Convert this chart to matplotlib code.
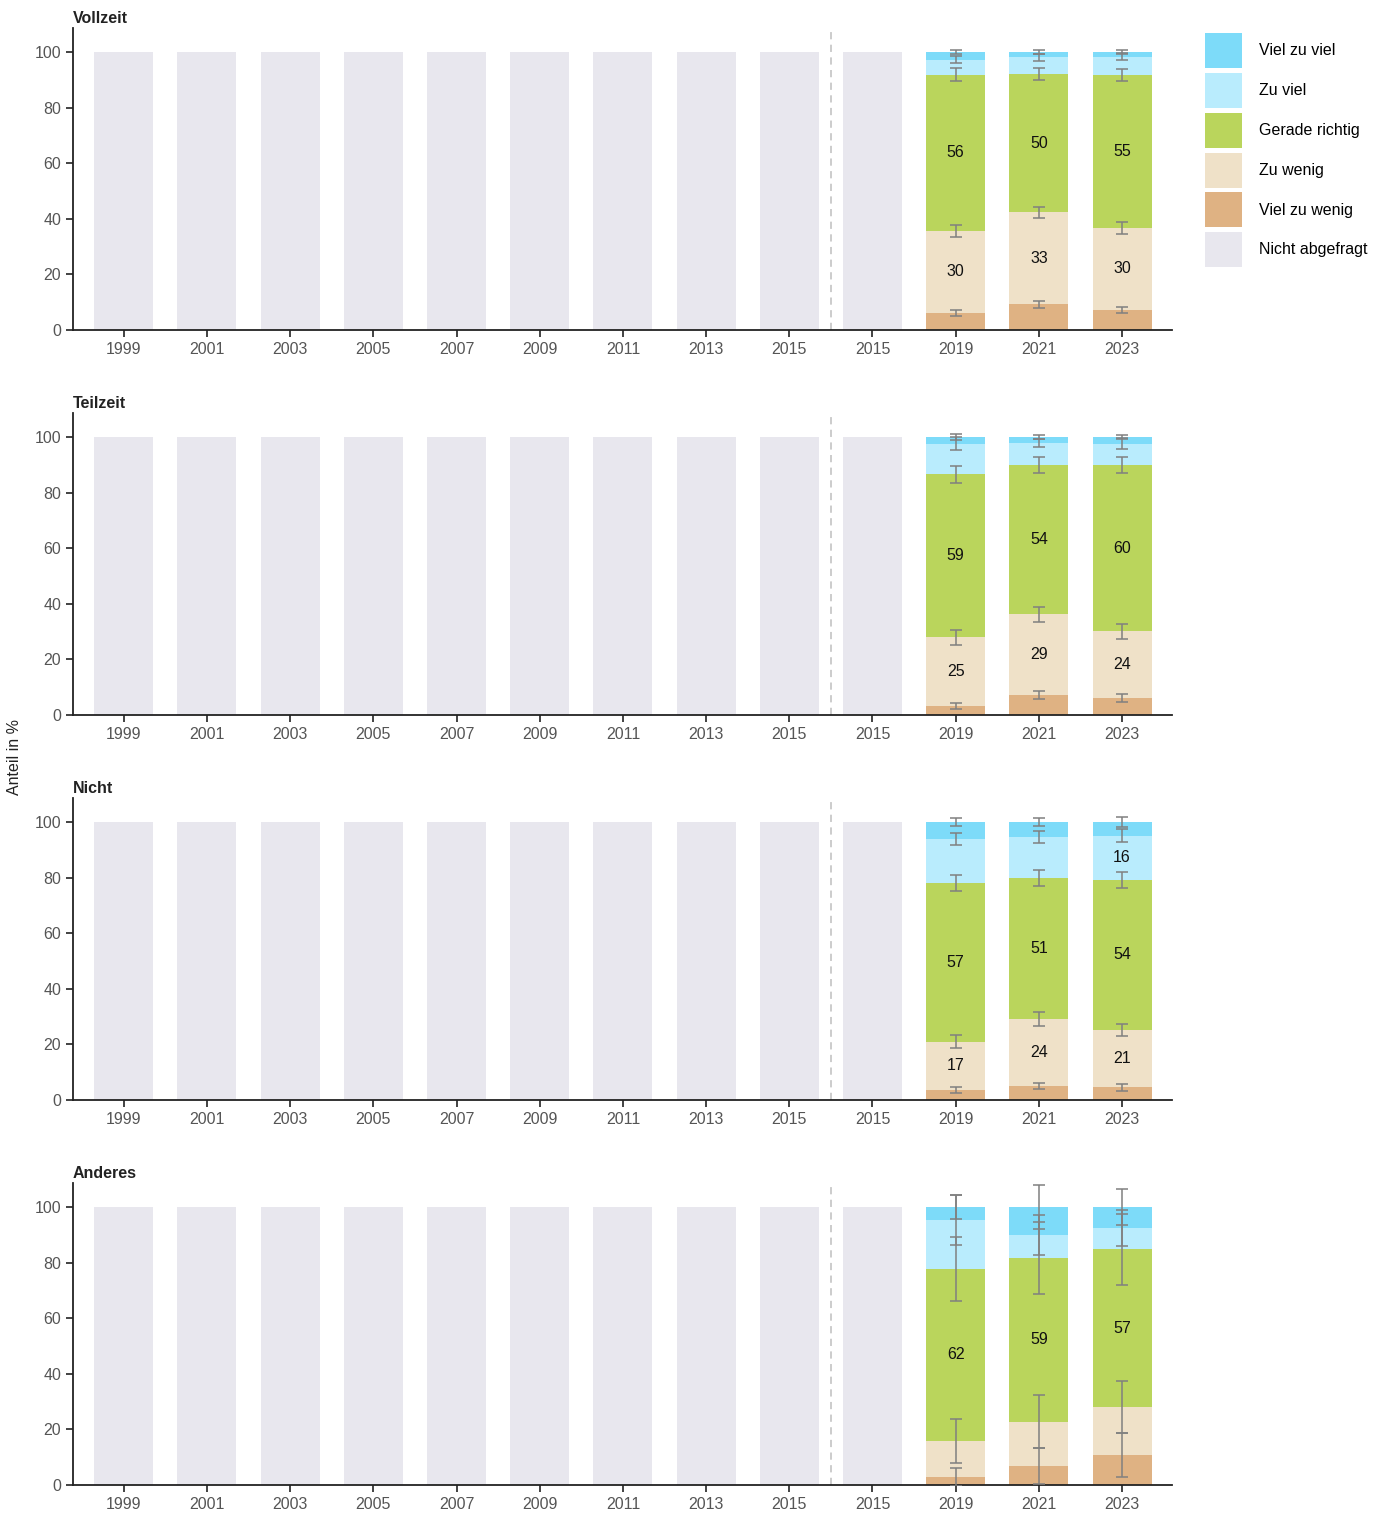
import matplotlib
matplotlib.use("Agg")
import matplotlib.pyplot as plt
from matplotlib.patches import Patch
import numpy as np

plt.rcParams['font.family'] = ['Liberation Sans', 'DejaVu Sans']

# ---------------- data ----------------
x_labels = ["1999", "2001", "2003", "2005", "2007", "2009", "2011", "2013", "2015",
            "2015", "2019", "2021", "2023"]
not_asked_value = [100, 100, 100, 100, 100, 100, 100, 100, 100, 100]
survey_years = ["2019", "2021", "2023"]
panel_titles = ["Vollzeit", "Teilzeit", "Nicht", "Anderes"]
categories = ["Viel zu wenig", "Zu wenig", "Gerade richtig", "Zu viel", "Viel zu viel"]
legend_labels = ["Viel zu viel", "Zu viel", "Gerade richtig", "Zu wenig", "Viel zu wenig",
                 "Nicht abgefragt"]

# shares (rows = categories, cols = 2019, 2021, 2023)
vollzeit_share = [[6.1, 9.3, 7.2],
                  [29.6, 33.1, 29.5],
                  [56.1, 49.6, 55.0],
                  [5.4, 6.1, 6.6],
                  [2.8, 1.9, 1.7]]
teilzeit_share = [[3.2, 7.2, 6.1],
                  [24.8, 29.1, 24.1],
                  [58.6, 53.6, 59.6],
                  [11.0, 7.9, 7.8],
                  [2.4, 2.2, 2.4]]
nicht_share = [[3.6, 5.0, 4.6],
               [17.3, 24.1, 20.6],
               [57.2, 50.8, 53.9],
               [15.8, 14.7, 15.9],
               [6.1, 5.4, 5.0]]
anderes_share = [[2.9, 6.8, 10.8],
                 [12.9, 15.9, 17.3],
                 [61.9, 59.0, 56.6],
                 [17.6, 8.2, 7.6],
                 [4.7, 10.1, 7.7]]

# confidence half-widths at the top of each stacked segment
vollzeit_err = [[1.1, 1.3, 1.1],
                [2.1, 2.0, 2.1],
                [2.3, 2.2, 2.1],
                [1.2, 1.2, 1.3],
                [0.8, 0.7, 0.7]]
teilzeit_err = [[1.0, 1.5, 1.4],
                [2.7, 2.7, 2.7],
                [3.0, 3.0, 2.9],
                [2.3, 1.6, 2.0],
                [1.0, 0.6, 0.7]]
nicht_err = [[1.0, 1.2, 1.2],
             [2.3, 2.5, 2.3],
             [2.9, 2.9, 2.9],
             [2.2, 2.3, 2.3],
             [1.4, 1.4, 1.7]]
anderes_err = [[3.2, 6.5, 7.9],
               [7.8, 9.5, 9.4],
               [11.5, 13.0, 12.6],
               [9.1, 7.1, 6.5],
               [4.4, 7.8, 6.4]]

# which segment labels are printed (1 = shown)
vollzeit_show = [[0, 0, 0], [1, 1, 1], [1, 1, 1], [0, 0, 0], [0, 0, 0]]
teilzeit_show = [[0, 0, 0], [1, 1, 1], [1, 1, 1], [0, 0, 0], [0, 0, 0]]
nicht_show = [[0, 0, 0], [1, 1, 1], [1, 1, 1], [0, 0, 1], [0, 0, 0]]
anderes_show = [[0, 0, 0], [0, 0, 0], [1, 1, 1], [0, 0, 0], [0, 0, 0]]

# ---------------- style ----------------
colors = {"Viel zu wenig": "#dfb283",
          "Zu wenig": "#efe1c8",
          "Gerade richtig": "#bad55c",
          "Zu viel": "#b9ecfd",
          "Viel zu viel": "#7ddbf9",
          "Nicht abgefragt": "#e8e7ee"}

W, H = 1389, 1515
fig = plt.figure(figsize=(W / 100, H / 100), dpi=100)

shares = [vollzeit_share, teilzeit_share, nicht_share, anderes_share]
errs = [vollzeit_err, teilzeit_err, nicht_err, anderes_err]
shows = [vollzeit_show, teilzeit_show, nicht_show, anderes_show]
bottoms_px = [330, 715, 1100, 1485]
left_px, right_px = 73, 1172
height_px = 302
bar_w = 0.71
text_col = "#555555"

x_all = np.arange(len(x_labels))
x_na = x_all[:len(not_asked_value)]
x_sv = x_all[len(not_asked_value):]

for p in range(4):
    ax = fig.add_axes([left_px / W, 1 - bottoms_px[p] / H,
                       (right_px - left_px) / W, height_px / H])
    ax.bar(x_na, not_asked_value, width=bar_w, color=colors["Nicht abgefragt"], zorder=1)
    bottom = np.zeros(len(survey_years))
    for ci, cat in enumerate(categories):
        vals = np.array(shares[p][ci], dtype=float)
        ax.bar(x_sv, vals, width=bar_w, bottom=bottom, color=colors[cat], zorder=1)
        top = bottom + vals
        ax.errorbar(x_sv, top, yerr=errs[p][ci], fmt="none", ecolor="#808080",
                    elinewidth=1.1, capsize=4.5, capthick=1.1, zorder=3)
        for j in range(len(survey_years)):
            if shows[p][ci][j]:
                ax.text(x_sv[j], bottom[j] + vals[j] / 2, f"{vals[j]:.0f}",
                        ha="center", va="center", fontsize=11.5, color="#111111", zorder=4)
        bottom = top
    ax.axvline(8.5, color="#c8c8c8", linestyle=(0, (4, 3)), linewidth=1.3, zorder=0)
    ax.set_xlim(-0.61, len(x_labels) - 0.4)
    ax.set_ylim(0, 108.6)
    ax.set_xticks(x_all)
    ax.set_xticklabels(x_labels)
    ax.set_yticks([0, 20, 40, 60, 80, 100])
    ax.tick_params(axis="both", labelsize=11.5, labelcolor=text_col, length=5,
                   width=1.2, direction="out", color="#222222")
    for s in ["top", "right"]:
        ax.spines[s].set_visible(False)
    for s in ["left", "bottom"]:
        ax.spines[s].set_linewidth(1.3)
        ax.spines[s].set_color("#222222")
    ax.text(0, 1.005, panel_titles[p], transform=ax.transAxes, ha="left", va="bottom",
            fontsize=11.5, fontweight="bold", color="#222222")

fig.text(15 / W, 1 - 757 / H, "Anteil in %", rotation=90, ha="center", va="center",
         fontsize=11.5, color="#222222")

handles = [Patch(facecolor=colors[l], edgecolor="none") for l in legend_labels]
fig.legend(handles, legend_labels, loc="upper left",
           bbox_to_anchor=(1205 / W, 1 - 33 / H), frameon=False, fontsize=11.5,
           handlelength=2.3, handleheight=3.0, handletextpad=1.05, labelspacing=0.3,
           borderpad=0, borderaxespad=0)

fig.savefig("out.png", dpi=100)
